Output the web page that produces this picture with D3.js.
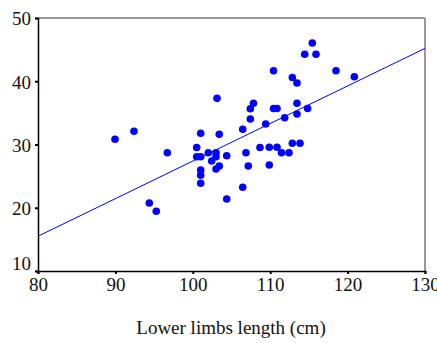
<!DOCTYPE html>
<html><head><meta charset="utf-8">
<script src="https://cdn.jsdelivr.net/npm/d3@7"></script>
<style>body{margin:0;background:#fff}svg{display:block}</style>
</head><body>
<svg id="c" width="437" height="343"></svg>
<script>
const lowerLimbs = [89.95,92.40,96.71,94.38,95.28,100.50,100.50,101.02,101.02,101.02,101.02,101.02,102.00,103.0,103.0,102.44,103.13,103.42,103.42,103.0,104.38,104.38,106.45,106.45,106.87,107.17,107.43,107.43,107.84,108.68,109.42,109.88,109.88,110.43,110.43,110.88,110.88,111.46,112.43,111.87,112.86,113.85,112.86,113.46,113.46,113.46,114.84,114.46,115.92,115.44,118.50,120.87];
const yValues   = [30.82,32.09,28.70,20.75,19.44,29.53,28.07,28.07,31.77,25.97,25.13,23.87,28.70,28.70,28.07,27.39,37.30,31.61,26.60,26.13,28.23,21.38,32.40,23.23,28.70,26.60,34.03,35.66,36.51,29.53,33.24,29.56,26.76,41.67,35.69,35.69,29.56,28.70,28.70,34.24,30.19,30.19,40.59,39.72,36.51,34.82,35.69,44.26,44.26,46.05,41.67,40.72];
const fitX = [80, 130];
const fitY = [15.5, 45.2];
const xTicks = [80,90,100,110,120,130];
const yTicks = [10,20,30,40,50];
const xTitle = "Lower limbs length (cm)";

const FONT='"Liberation Serif","Times New Roman",Times,serif';
const L=38,R=425,T=18,B=271;
const x=d3.scaleLinear().domain([80,130]).range([L,R]);
const y=d3.scaleLinear().domain([10,50]).range([B,T]);
const svg=d3.select("#c");

svg.append("line").attr("x1",L).attr("x2",R).attr("y1",T).attr("y2",T).attr("stroke","#777").attr("stroke-width",1.5);
svg.append("line").attr("x1",R).attr("x2",R).attr("y1",T).attr("y2",B).attr("stroke","#777").attr("stroke-width",1.5);

svg.append("line").attr("x1",x(fitX[0])).attr("y1",y(fitY[0])).attr("x2",x(fitX[1])).attr("y2",y(fitY[1]))
  .attr("stroke","#0000ff").attr("stroke-width",1);

svg.append("g").selectAll("circle").data(lowerLimbs.map((v,i)=>[v,yValues[i]])).join("circle")
  .attr("cx",d=>x(d[0])).attr("cy",d=>y(d[1])).attr("r",3.8).attr("fill","#0000ff");

const xa=svg.append("g").attr("transform",`translate(0,${B})`)
  .call(d3.axisBottom(x).tickValues(xTicks).tickSize(3).tickPadding(4).tickFormat(d3.format("d")));
const ya=svg.append("g").attr("transform",`translate(${L},0)`)
  .call(d3.axisLeft(y).tickValues(yTicks).tickSize(3).tickPadding(4).tickFormat(d3.format("d")));
[xa,ya].forEach(g=>{
  g.attr("font-family",FONT).style("font-family",FONT);
  g.select(".domain").attr("stroke","#000").attr("stroke-width",1.5);
  g.selectAll(".tick line").attr("stroke","#000").attr("stroke-width",2);
  g.selectAll(".tick text").attr("font-size",19).attr("fill","#111").style("font-family",FONT);
});
ya.selectAll(".tick text").attr("dy",d=>d===10?"-0.1em":"0.36em");

svg.append("text").attr("x",231).attr("y",334).attr("text-anchor","middle")
  .style("font-family",FONT).attr("font-size",19).attr("fill","#111").text(xTitle);
</script>
</body></html>
